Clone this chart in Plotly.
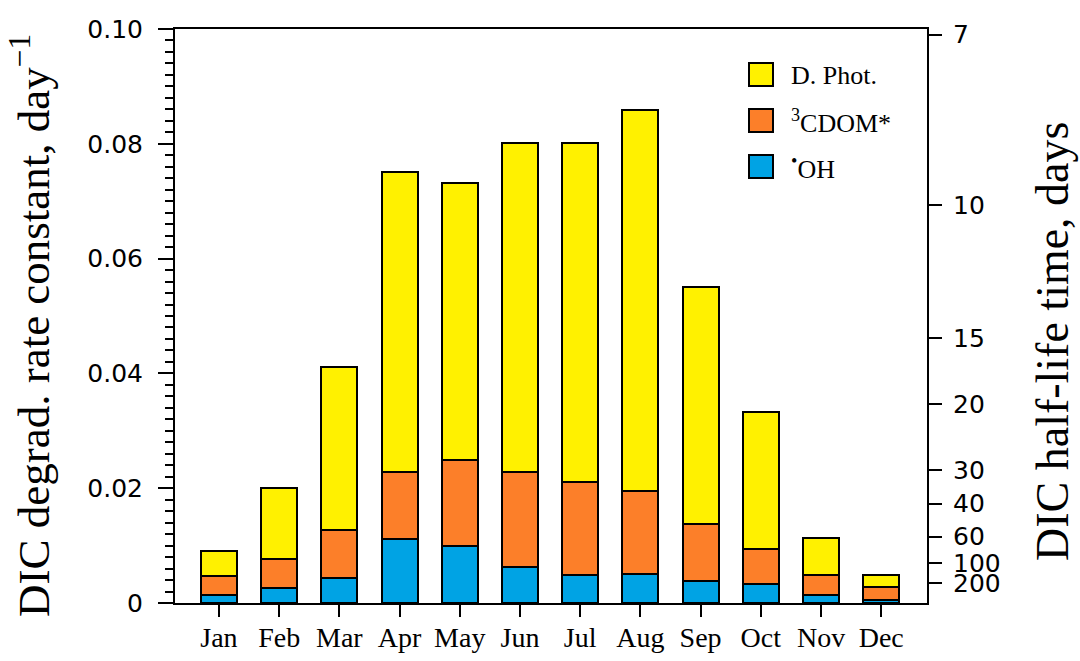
import math
import plotly.graph_objects as go

months = ["Jan", "Feb", "Mar", "Apr", "May", "Jun", "Jul", "Aug", "Sep", "Oct", "Nov", "Dec"]
# segment contributions (day^-1)
oh_k = [0.0014, 0.0026, 0.0044, 0.0111, 0.0099, 0.0063, 0.0048, 0.0051, 0.0038, 0.0033, 0.0014, 0.0005]
cdom_k = [0.0033, 0.0050, 0.0084, 0.0118, 0.0151, 0.0166, 0.0162, 0.0144, 0.0099, 0.0061, 0.0034, 0.0023]
dphot_k = [0.0044, 0.0125, 0.0284, 0.0522, 0.0482, 0.0573, 0.0592, 0.0664, 0.0414, 0.0238, 0.0065, 0.0021]
series_names = ["D. Phot.", "<sup>3</sup>CDOM*", "<sup>•</sup>OH"]
left_ticks = [0, 0.02, 0.04, 0.06, 0.08, 0.10]
left_ticktext = ["0", "0.02", "0.04", "0.06", "0.08", "0.10"]
half_life_days = [7, 10, 15, 20, 30, 40, 60, 100, 200]

YELLOW = "#FFF100"
ORANGE = "#FC7F29"
BLUE = "#00A3E4"

SERIF = "Liberation Serif"
SANS = "DejaVu Sans"

fig = go.Figure()
for vals, color, name in [(oh_k, BLUE, series_names[2]),
                          (cdom_k, ORANGE, series_names[1]),
                          (dphot_k, YELLOW, series_names[0])]:
    fig.add_trace(go.Bar(x=months, y=vals, name=name, width=0.6,
                         marker=dict(color=color, line=dict(color="black", width=2)),
                         showlegend=False))

# invisible trace to anchor the right axis
fig.add_trace(go.Scatter(x=[months[0]], y=[0], yaxis="y2", mode="markers",
                         marker=dict(opacity=0), showlegend=False, hoverinfo="skip"))

right_vals = [math.log(2) / t for t in half_life_days]
right_text = [str(t) for t in half_life_days]

fig.update_layout(
    width=1080, height=661,
    margin=dict(l=175, r=153, t=29, b=58),
    paper_bgcolor="white", plot_bgcolor="white",
    barmode="stack",
    showlegend=False,
    xaxis=dict(range=[-0.73, 11.76], showline=True, linecolor="black", linewidth=2,
               mirror=True, ticks="outside", ticklen=12, tickwidth=2, tickcolor="black",
               tickfont=dict(family=SERIF, size=28, color="black"), showgrid=False,
               zeroline=False, automargin=False, ticklabelstandoff=-4),
    yaxis=dict(range=[0, 0.1], showline=True, linecolor="black", linewidth=2,
               ticks="outside", ticklen=15, tickwidth=2, tickcolor="black",
               tickvals=left_ticks, ticktext=left_ticktext,
               tickfont=dict(family=SANS, size=25, color="black"),
               ticklabelstandoff=10, automargin=False,
               minor=dict(dtick=0.002, ticks="outside", ticklen=8, tickwidth=1.5,
                          tickcolor="black", showgrid=False),
               showgrid=False, zeroline=False),
    yaxis2=dict(range=[0, 0.1], overlaying="y", side="right", showline=True,
                linecolor="black", linewidth=2, ticks="outside", ticklen=13, tickwidth=2,
                tickcolor="black", tickvals=right_vals, ticktext=right_text,
                tickfont=dict(family=SANS, size=25, color="black"), automargin=False,
                ticklabelstandoff=6, showgrid=False, zeroline=False),
)

# axis titles
fig.add_annotation(text="DIC degrad. rate constant, day<sup>−1</sup>", xref="paper", yref="paper",
                   x=(30 - 175) / 752, y=(603 - 326) / 574, textangle=-90,
                   xanchor="center", yanchor="middle", showarrow=False,
                   font=dict(family=SERIF, size=45, color="black"))
fig.add_annotation(text="DIC half-life time, days", xref="paper", yref="paper",
                   x=(1052 - 175) / 752, y=(603 - 342) / 574, textangle=-90,
                   xanchor="center", yanchor="middle", showarrow=False,
                   font=dict(family=SERIF, size=46, color="black"))

# legend (drawn manually to get large swatches)
legend_items = [(series_names[0], YELLOW), (series_names[1], ORANGE), (series_names[2], BLUE)]
sw_top = [63, 109, 155]
for (label, color), top in zip(legend_items, sw_top):
    fig.add_shape(type="rect", xref="paper", yref="paper",
                  x0=(749 - 175) / 752, x1=(773 - 175) / 752,
                  y0=(603 - top) / 574, y1=(603 - (top + 23)) / 574,
                  fillcolor=color, line=dict(color="black", width=2))
    fig.add_annotation(text=label, xref="paper", yref="paper",
                       x=(789 - 175) / 752, y=(603 - (top + 12)) / 574,
                       xanchor="left", yanchor="middle", showarrow=False,
                       font=dict(family=SERIF, size=26, color="black"))

fig.write_html("out.html")
